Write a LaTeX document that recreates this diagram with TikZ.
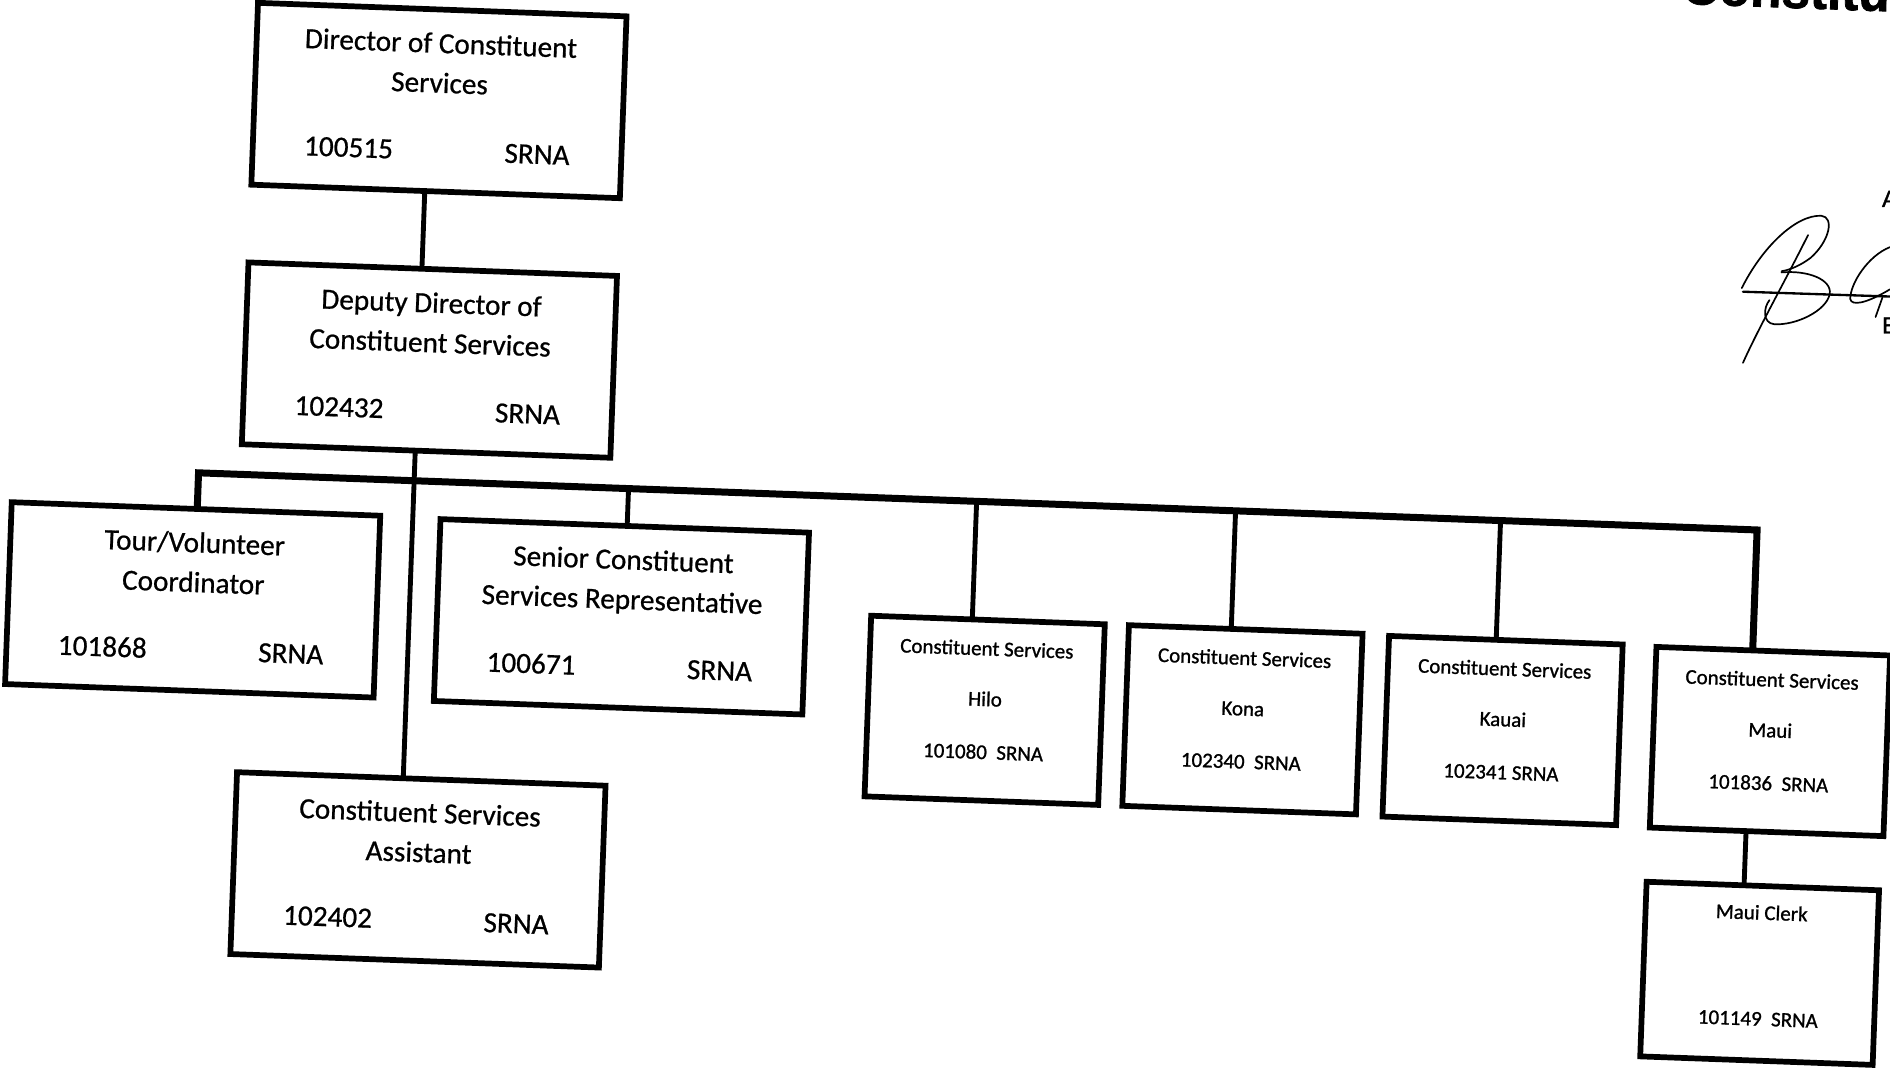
\documentclass[tikz,border=0pt]{standalone}
\usepackage{fontspec}
\setmainfont{Carlito}[FakeBold=0.7]
\newfontfamily\cityfont{Carlito}[FakeBold=1.1]
\newfontfamily\headfont{Liberation Sans}[FakeBold=1.5]
\usetikzlibrary{calc}
\tikzset{
  post/.style={draw,line width=2.7pt,outer sep=0pt,inner sep=0pt,anchor=north west},
  bigbox/.style={post,minimum width=6.12cm,minimum height=3.02cm},
  citybox/.style={post,minimum width=3.88cm,minimum height=3cm},
  bigtxt/.style={font=\fontsize{13.8}{16}\selectfont,inner sep=0pt,anchor=base},
  smalltxt/.style={font=\cityfont\fontsize{9.9}{12}\selectfont,inner sep=0pt,anchor=base},
  wire/.style={line width=2.3pt},
  bus/.style={line width=3.3pt},
  sig/.style={line width=0.8pt,line cap=round}
}
% #1 name, #2 left, #3 top, #4 first line, #5 second line, #6 number
\newcommand{\bigpost}[6]{%
  \node[bigbox] (#1) at (#2,#3) {};
  \node[bigtxt] (#1-a) at ($(#1.north west)+(153,36)$) {#4};
  \node[bigtxt] (#1-b) at ($(#1.north west)+(153,69)$) {#5};
  \node[bigtxt] (#1-n) at ($(#1.north west)+(79.5,125)$) {#6};
  \node[bigtxt] (#1-s) at ($(#1.north west)+(236,125)$) {SRNA};
}
% #1 name, #2 left, #3 top, #4 island, #5 number line
\newcommand{\citypost}[5]{%
  \node[citybox] (#1) at (#2,#3) {};
  \node[smalltxt] (#1-a) at ($(#1.north west)+(97,29.5)$) {Constituent Services};
  \node[smalltxt] (#1-b) at ($(#1.north west)+(97,71.5)$) {#4};
  \node[smalltxt] (#1-n) at ($(#1.north west)+(97,115.5)$) {#5};
}

\begin{document}
\begin{tikzpicture}[x=0.02cm,y=-0.02cm]
  \useasboundingbox (0,0) rectangle (1568,890);
  \clip (0,0) rectangle (1568,890);
  \fill[white] (0,0) rectangle (1568,890);

  \begin{scope}[rotate=-2.1,transform shape]
    \node[font=\headfont\bfseries\fontsize{24.2}{28}\selectfont,anchor=base west,inner sep=0pt] (title) at (1394,-48) {Constitu};

    \bigpost{dir}{214}{-5.5}{Director of Constituent}{Services}{100515}
    \bigpost{dep}{214}{210}{Deputy Director of}{Constituent Services}{102432}
    \bigpost{tour}{25}{416}{Tour/Volunteer}{Coordinator}{101868}
    \bigpost{sen}{381}{417}{Senior Constituent}{Services Representative}{100671}
    \bigpost{asst}{220}{633}{Constituent Services}{Assistant}{102402}

    \citypost{hilo}{741}{484}{Hilo}{101080\ \ SRNA}
    \citypost{kona}{955}{484}{Kona}{102340\ \ SRNA}
    \citypost{kauai}{1171}{485}{Kauai}{102341 SRNA}
    \citypost{maui}{1393}{486}{Maui}{101836\ \ SRNA}

    \node[post,minimum width=3.86cm,minimum height=2.9cm] (clerk) at (1392,681) {};
    \node[smalltxt] (clerk-a) at ($(clerk.north west)+(96.5,28)$) {Maui Clerk};
    \node[smalltxt] (clerk-n) at ($(clerk.north west)+(96.5,116)$) {101149\ \ SRNA};

    % connectors
    \coordinate (spine) at (358,0);
    \coordinate (busL) at (179,386);
    \coordinate (busR) at (1473,386);
    \draw[wire] (dir.south -| spine) -- (dep.north -| spine);
    \draw[wire] (dep.south -| spine) -- (asst.north -| spine);
    \draw[bus] (tour.north -| busL) -- (busL) -- (busR) -- (maui.north -| busR);
    \foreach \n/\x in {sen/536,hilo/825,kona/1040,kauai/1260}{
      \coordinate (j-\n) at (\x,386);
      \draw[wire] (j-\n) -- (\n.north -| j-\n);
    }
    \draw[wire] (maui.south -| busR) -- (clerk.north -| busR);
  \end{scope}

  % approval stamp at the edge
  \node[font=\headfont\fontsize{11}{13}\selectfont,anchor=west,inner sep=0pt] (apv) at (1561,165) {A};
  \node[font=\headfont\fontsize{11}{13}\selectfont,anchor=west,inner sep=0pt] (eby) at (1561,270) {E};
  \draw[sig] (1445,239) .. controls (1462,205) and (1490,178) .. (1511,179)
    .. controls (1522,180) and (1518,200) .. (1502,214)
    .. controls (1494,220) and (1485,224) .. (1478,225);
  \draw[sig] (1478,226) .. controls (1500,224) and (1520,232) .. (1518,244)
    .. controls (1515,258) and (1490,270) .. (1472,269)
    .. controls (1462,268) and (1463,255) .. (1468,249);
  \draw[sig] (1500,195) .. controls (1480,235) and (1460,270) .. (1446,301);
  \draw[sig,line width=1.1pt] (1446,242) -- (1568,246);
  \draw[sig] (1568,205) .. controls (1550,212) and (1535,235) .. (1535,248)
    .. controls (1536,254) and (1548,252) .. (1568,240);
  \draw[sig] (1556,263) -- (1562,246);
\end{tikzpicture}
\end{document}
